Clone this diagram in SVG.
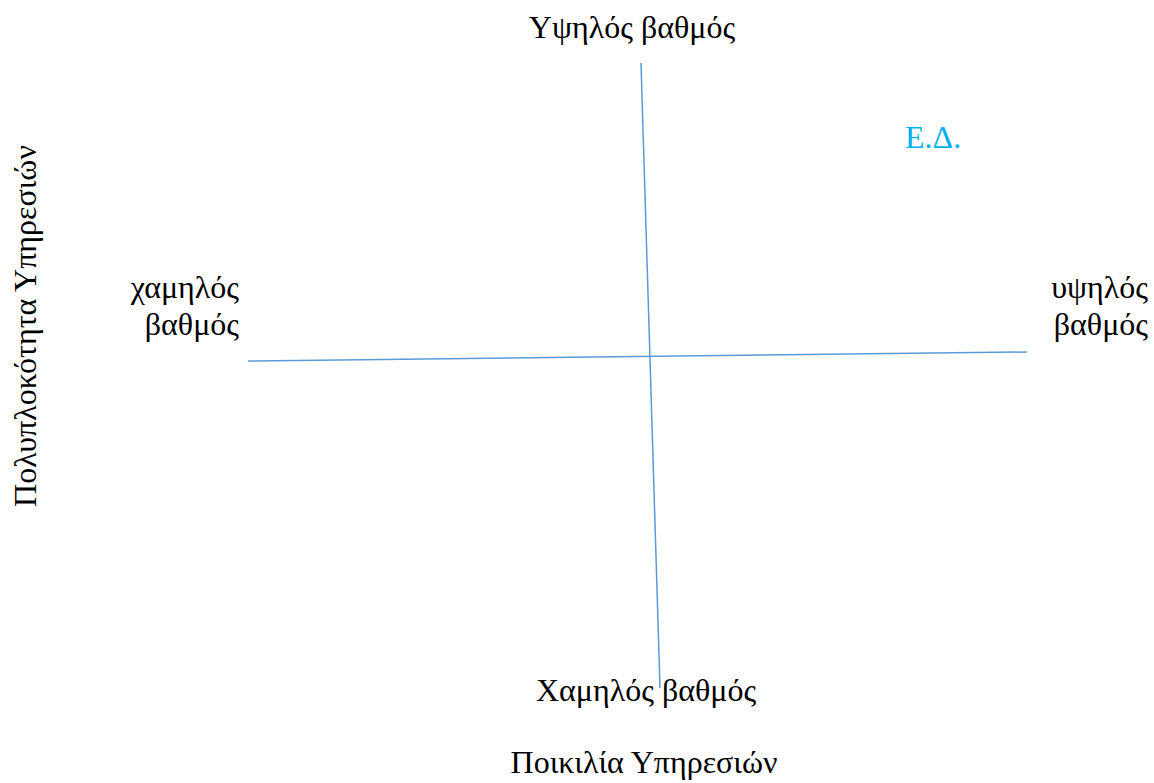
<svg xmlns="http://www.w3.org/2000/svg" width="1154" height="783" viewBox="0 0 1154 783">
<style>
.t{font-family:"Liberation Serif","Times New Roman",serif;font-size:32px;fill:#000}
.r{text-anchor:end}
.m{text-anchor:middle}
.ax{stroke:#5B9BD5;stroke-width:1.5;fill:none}
</style>
<rect width="1154" height="783" fill="#fff"/>
<g id="connectors">
<line class="ax" x1="641" y1="63" x2="660" y2="688"/>
<line class="ax" x1="248" y1="361" x2="1027" y2="352"/>
</g>
<g id="top-label"><text class="t m" x="632" y="38">Υψηλός βαθμός</text></g>
<g id="ed-label"><text class="t" x="905" y="148" style="fill:#00B0F0">Ε.Δ.</text></g>
<g id="left-label"><text class="t r" x="239" y="298">χαμηλός</text><text class="t r" x="239" y="335">βαθμός</text></g>
<g id="right-label"><text class="t r" x="1148" y="298">υψηλός</text><text class="t r" x="1148" y="335">βαθμός</text></g>
<g id="bottom-label"><text class="t m" x="646" y="701">Χαμηλός βαθμός</text></g>
<g id="x-axis-title"><text class="t m" x="644" y="773">Ποικιλία Υπηρεσιών</text></g>
<g id="y-axis-title"><text class="t m" transform="translate(36,326) rotate(-90)">Πολυπλοκότητα Υπηρεσιών</text></g>
</svg>
